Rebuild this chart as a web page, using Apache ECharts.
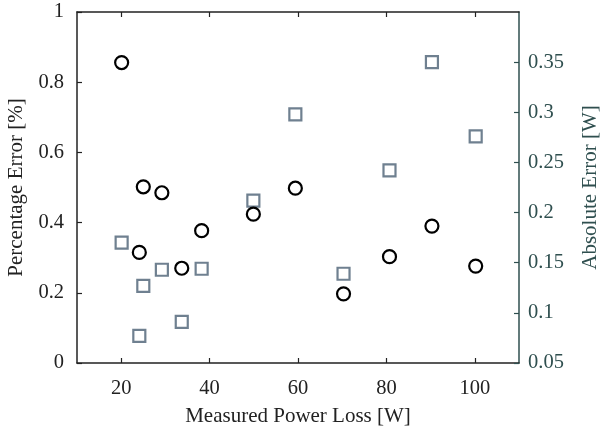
<!DOCTYPE html>
<html>
<head>
<meta charset="utf-8">
<script src="https://cdn.jsdelivr.net/npm/echarts@6/dist/echarts.min.js"></script>
<style>html,body{margin:0;padding:0;background:#fff;}#c{width:600px;height:435px;}</style>
</head>
<body>
<div id="c"></div>
<script>
// Data
const powerLoss = [20.1, 24.1, 25.0, 29.2, 33.7, 38.2, 49.9, 59.4, 70.3, 80.7, 90.3, 100.2];
const percentError = [0.856, 0.315, 0.502, 0.485, 0.270, 0.377, 0.424, 0.498, 0.197, 0.303, 0.390, 0.276];
const absoluteError = [0.170, 0.077, 0.127, 0.143, 0.091, 0.144, 0.212, 0.298, 0.139, 0.242, 0.350, 0.276];
const xTicks = [20, 40, 60, 80, 100];
const leftTicks = [0, 0.2, 0.4, 0.6, 0.8, 1];
const rightTicks = [0.05, 0.1, 0.15, 0.2, 0.25, 0.3, 0.35];

const font = 'Liberation Serif';
const pctData = powerLoss.map((x, i) => [x, percentError[i]]);
const absData = powerLoss.map((x, i) => [x, absoluteError[i]]);

const chart = echarts.init(document.getElementById('c'), null, {renderer: 'canvas'});
chart.setOption({
  animation: false,
  backgroundColor: '#fff',
  grid: {left: 77, right: 81, top: 12, bottom: 72, containLabel: false, outerBoundsMode: 'none'},
  xAxis: [{
    type: 'value', min: 10, max: 110, position: 'bottom',
    name: 'Measured Power Loss [W]', nameLocation: 'middle', nameGap: 43,
    nameTextStyle: {fontFamily: font, fontSize: 21, color: '#222'},
    axisLine: {show: true, lineStyle: {color: '#222', width: 1.5}},
    axisTick: {show: true, inside: true, length: 5, customValues: xTicks, lineStyle: {color: '#222', width: 1.2}},
    axisLabel: {fontFamily: font, fontSize: 20.5, color: '#222', margin: 15, customValues: xTicks},
    splitLine: {show: false}
  }, {
    type: 'value', min: 10, max: 110, position: 'top',
    axisLine: {show: true, onZero: false, lineStyle: {color: '#222', width: 1.5}},
    axisTick: {show: true, inside: true, length: 5, customValues: xTicks, lineStyle: {color: '#222', width: 1.2}},
    axisLabel: {show: false},
    splitLine: {show: false}
  }],
  yAxis: [{
    type: 'value', min: 0, max: 1, position: 'left',
    name: 'Percentage Error [%]', nameLocation: 'middle', nameGap: 48,
    nameTextStyle: {fontFamily: font, fontSize: 21, color: '#222'},
    axisLine: {show: true, lineStyle: {color: '#222', width: 1.5}},
    axisTick: {show: true, inside: true, length: 5, customValues: leftTicks, lineStyle: {color: '#222', width: 1.2}},
    axisLabel: {fontFamily: font, fontSize: 20.5, color: '#222', margin: 13, customValues: leftTicks},
    splitLine: {show: false}
  }, {
    type: 'value', min: 0.05, max: 0.4, position: 'right',
    name: 'Absolute Error [W]', nameLocation: 'middle', nameGap: 61,
    nameTextStyle: {fontFamily: font, fontSize: 21, color: '#2f4f4f'},
    axisLine: {show: true, lineStyle: {color: '#2f4f4f', width: 1.5}},
    axisTick: {show: true, inside: true, length: 5, customValues: rightTicks, lineStyle: {color: '#2f4f4f', width: 1.2}},
    axisLabel: {fontFamily: font, fontSize: 20.5, color: '#2f4f4f', margin: 9, customValues: rightTicks},
    splitLine: {show: false}
  }],
  series: [{
    name: 'Absolute Error', type: 'scatter', xAxisIndex: 0, yAxisIndex: 1,
    data: absData, symbol: 'rect', symbolSize: 12,
    itemStyle: {color: 'rgba(0,0,0,0)', borderColor: '#6f8090', borderWidth: 2.2, opacity: 1}
  }, {
    name: 'Percentage Error', type: 'scatter', xAxisIndex: 0, yAxisIndex: 0,
    data: pctData, symbol: 'circle', symbolSize: 13,
    itemStyle: {color: 'rgba(0,0,0,0)', borderColor: '#000', borderWidth: 2.2, opacity: 1}
  }]
});
</script>
</body>
</html>
